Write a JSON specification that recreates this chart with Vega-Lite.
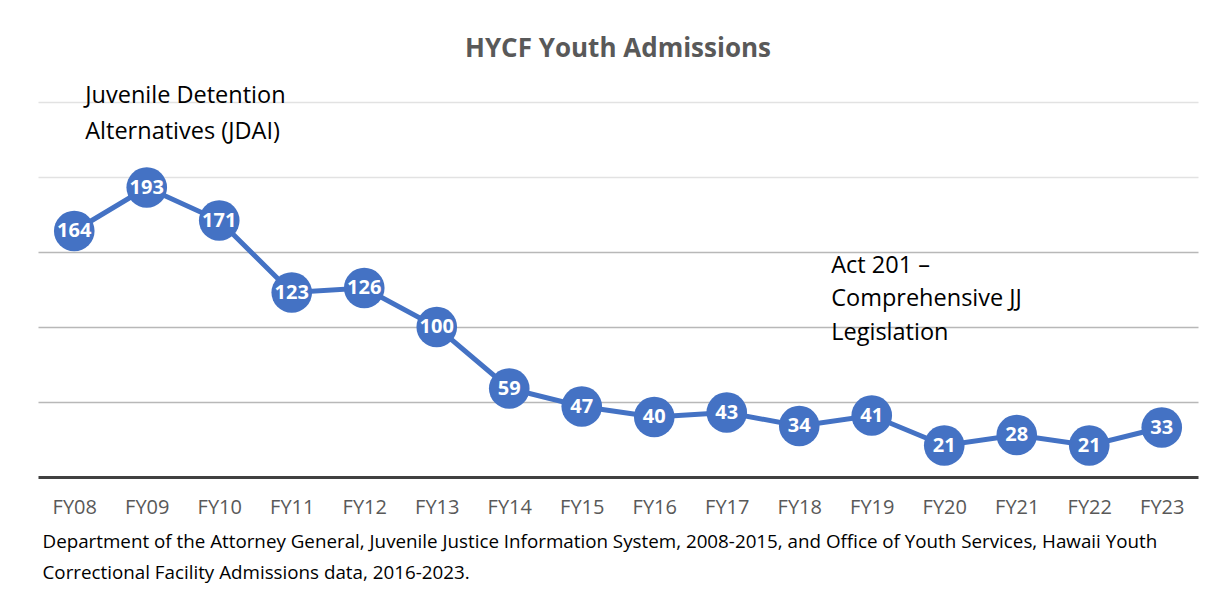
{
  "$schema": "https://vega.github.io/schema/vega-lite/v6.json",
  "autosize": "none",
  "width": 1160,
  "height": 375,
  "padding": {"left": 38, "top": 102, "right": 23, "bottom": 117},
  "background": "white",
  "config": {
    "view": {"stroke": null},
    "font": "Open Sans"
  },
  "title": {
    "text": "HYCF Youth Admissions",
    "font": "Open Sans",
    "fontSize": 26,
    "fontWeight": "bold",
    "color": "#595959",
    "anchor": "middle",
    "offset": 22
  },
  "datasets": {
    "adm": [
      {"fy": "FY08", "n": 164},
      {"fy": "FY09", "n": 193},
      {"fy": "FY10", "n": 171},
      {"fy": "FY11", "n": 123},
      {"fy": "FY12", "n": 126},
      {"fy": "FY13", "n": 100},
      {"fy": "FY14", "n": 59},
      {"fy": "FY15", "n": 47},
      {"fy": "FY16", "n": 40},
      {"fy": "FY17", "n": 43},
      {"fy": "FY18", "n": 34},
      {"fy": "FY19", "n": 41},
      {"fy": "FY20", "n": 21},
      {"fy": "FY21", "n": 28},
      {"fy": "FY22", "n": 21},
      {"fy": "FY23", "n": 33}
    ],
    "notes": [
      {"fy": "FY08", "n": 254, "label": "Juvenile Detention\nAlternatives (JDAI)", "shift": 11}
    ],
    "notes2": [
      {"fy": "FY18", "n": 141, "label": "Act 201 –\nComprehensive JJ\nLegislation", "shift": 32}
    ]
  },
  "encoding": {
    "x": {
      "field": "fy",
      "type": "nominal",
      "sort": null,
      "scale": {"type": "point", "padding": 0.5},
      "axis": {
        "title": ["Department of the Attorney General, Juvenile Justice Information System, 2008-2015, and Office of Youth Services, Hawaii Youth", "Correctional Facility Admissions data, 2016-2023."],
        "titleFont": "Open Sans",
        "titleFontSize": 18.8,
        "titleFontWeight": "normal",
        "titleColor": "#000000",
        "titleAnchor": "start",
        "titleAlign": "left",
        "titleBaseline": "top",
        "titleLineHeight": 31,
        "titleX": 4,
        "titleY": 55,
        "labelAngle": 0,
        "labelFont": "Open Sans",
        "labelFontSize": 20,
        "labelColor": "#595959",
        "labelPadding": 20,
        "ticks": false,
        "domainColor": "#404040",
        "domainWidth": 3,
        "grid": false
      }
    },
    "y": {
      "field": "n",
      "type": "quantitative",
      "scale": {"domain": [0, 250], "nice": false, "zero": true},
      "axis": {
        "title": null,
        "labels": false,
        "ticks": false,
        "domain": false,
        "values": [50, 100, 150, 200, 250],
        "grid": true,
        "gridWidth": 1.5,
        "gridColor": {"condition": {"test": "datum.value >= 200", "value": "#e2e2e2"}, "value": "#b8b8b8"}
      }
    }
  },
  "layer": [
    {
      "data": {"name": "adm"},
      "mark": {"type": "line", "color": "#4472C4", "strokeWidth": 5}
    },
    {
      "data": {"name": "adm"},
      "mark": {"type": "circle", "color": "#4472C4", "opacity": 1, "size": 1650}
    },
    {
      "data": {"name": "adm"},
      "mark": {"type": "text", "color": "white", "font": "Open Sans", "fontSize": 20, "fontWeight": "bold", "baseline": "middle", "align": "center"},
      "encoding": {"text": {"field": "n", "type": "quantitative"}}
    },
    {
      "data": {"name": "notes"},
      "mark": {"type": "text", "color": "#000000", "font": "Open Sans", "fontSize": 23.5, "align": "left", "baseline": "middle", "lineBreak": "\n", "lineHeight": 36, "clip": false},
      "encoding": {
        "text": {"field": "label"},
        "xOffset": {"field": "shift", "type": "quantitative", "scale": null}
      }
    },
    {
      "data": {"name": "notes2"},
      "mark": {"type": "text", "color": "#000000", "font": "Open Sans", "fontSize": 23.5, "align": "left", "baseline": "middle", "lineBreak": "\n", "lineHeight": 33.5, "clip": false},
      "encoding": {
        "text": {"field": "label"},
        "xOffset": {"field": "shift", "type": "quantitative", "scale": null}
      }
    }
  ]
}
